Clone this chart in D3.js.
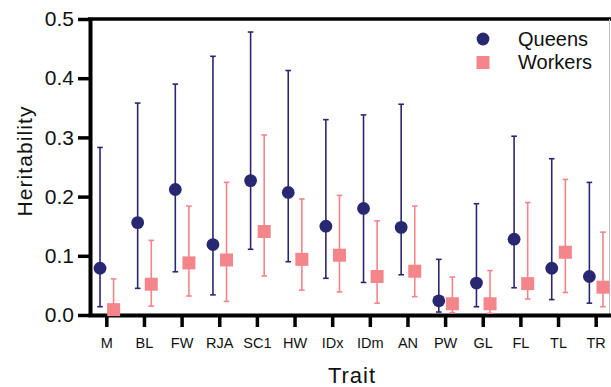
<!DOCTYPE html>
<html>
<head>
<meta charset="utf-8">
<script src="https://cdn.jsdelivr.net/npm/d3@7"></script>
<style>
  body { margin: 0; background: #fff; }
  svg { display: block; font-family: "Liberation Sans", Arial, sans-serif; }
</style>
</head>
<body>
<svg id="chart" width="611" height="387"></svg>
<script>
var traits = ["M", "BL", "FW", "RJA", "SC1", "HW", "IDx", "IDm", "AN", "PW", "GL", "FL", "TL", "TR"];

var queenH   = [0.079, 0.156, 0.212, 0.119, 0.227, 0.207, 0.150, 0.180, 0.148, 0.024, 0.054, 0.128, 0.079, 0.065];
var queenLo  = [0.014, 0.045, 0.073, 0.034, 0.111, 0.090, 0.062, 0.055, 0.068, 0.005, 0.014, 0.046, 0.026, 0.020];
var queenHi  = [0.283, 0.358, 0.390, 0.437, 0.478, 0.413, 0.330, 0.338, 0.356, 0.094, 0.188, 0.302, 0.264, 0.224];

var workerH  = [0.009, 0.052, 0.088, 0.093, 0.141, 0.094, 0.101, 0.065, 0.074, 0.019, 0.019, 0.053, 0.106, 0.047];
var workerLo = [0.001, 0.015, 0.032, 0.023, 0.066, 0.042, 0.039, 0.020, 0.031, 0.004, 0.003, 0.027, 0.038, 0.014];
var workerHi = [0.061, 0.126, 0.184, 0.224, 0.304, 0.196, 0.202, 0.159, 0.184, 0.064, 0.075, 0.190, 0.229, 0.140];

var yTicks = [0, 0.1, 0.2, 0.3, 0.4, 0.5];

var navy = "#282872";
var salmon = "#f4858a";

var svg = d3.select("#chart");
var x = d3.scaleBand().domain(traits).range([88, 615]).padding(0);
var y = d3.scaleLinear().domain([0, 0.5]).range([315, 19]);
var off = 6.8;

function cx(d, i, dx) { return x(traits[i]) + x.bandwidth() / 2 + dx; }

// frame top line and right edge
svg.append("line").attr("x1", 88).attr("x2", 611).attr("y1", y(0.5)).attr("y2", y(0.5))
    .style("stroke", "#000").style("stroke-width", "3.5px");
svg.append("line").attr("x1", 609.5).attr("x2", 609.5).attr("y1", y(0.5)).attr("y2", 315)
    .style("stroke", "#bbb").style("stroke-width", "1px");

function styleAxis(g, fs) {
    g.attr("font-family", null).attr("font-size", null);
    g.select(".domain").style("stroke", "#000").style("stroke-width", "4px");
    g.selectAll(".tick line").style("stroke", "#000").style("stroke-width", "3.5px");
    g.selectAll("text").style("font-size", fs + "px").style("fill", "#111");
}

// y axis
var yAxis = svg.append("g").attr("transform", "translate(90,0)")
    .call(d3.axisLeft(y).tickValues(yTicks).tickFormat(d3.format(".1f")).tickSize(12).tickPadding(4).tickSizeOuter(0));
styleAxis(yAxis, 21);

// x axis
var xAxis = svg.append("g").attr("transform", "translate(0,315)")
    .call(d3.axisBottom(x).tickSize(12).tickPadding(11).tickSizeOuter(0));
styleAxis(xAxis, 14.5);

// axis titles
svg.append("text").attr("transform", "translate(32,161) rotate(-90)")
    .attr("text-anchor", "middle").style("font-size", "21px").style("letter-spacing", "1.1px")
    .attr("fill", "#111").text("Heritability");
svg.append("text").attr("x", 352).attr("y", 383)
    .attr("text-anchor", "middle").style("font-size", "22px").style("letter-spacing", "1px")
    .attr("fill", "#111").text("Trait");

function drawSeries(h, lo, hi, dx, color, shape) {
    var g = svg.append("g");
    g.selectAll(".bar").data(h).join("line")
        .attr("x1", (d, i) => cx(d, i, dx)).attr("x2", (d, i) => cx(d, i, dx))
        .attr("y1", (d, i) => y(lo[i])).attr("y2", (d, i) => y(hi[i]))
        .attr("stroke", color).attr("stroke-width", 1.6);
    [lo, hi].forEach(arr => {
        g.selectAll(null).data(arr).join("line")
            .attr("x1", (d, i) => cx(d, i, dx) - 2.8).attr("x2", (d, i) => cx(d, i, dx) + 2.8)
            .attr("y1", d => y(d)).attr("y2", d => y(d))
            .attr("stroke", color).attr("stroke-width", 1.6);
    });
    if (shape == "circle") {
        g.selectAll("circle").data(h).join("circle")
            .attr("cx", (d, i) => cx(d, i, dx)).attr("cy", d => y(d)).attr("r", 6.4)
            .attr("fill", color);
    } else {
        g.selectAll("rect").data(h).join("rect")
            .attr("x", (d, i) => cx(d, i, dx) - 6.5).attr("y", d => y(d) - 6.5)
            .attr("width", 13).attr("height", 13).attr("fill", color);
    }
}

drawSeries(queenH, queenLo, queenHi, -off, navy, "circle");
drawSeries(workerH, workerLo, workerHi, off, salmon, "square");

// legend
var legend = svg.append("g");
legend.append("circle").attr("cx", 483).attr("cy", 39).attr("r", 6.4).attr("fill", navy);
legend.append("rect").attr("x", 476.5).attr("y", 56).attr("width", 13).attr("height", 13).attr("fill", salmon);
legend.append("text").attr("x", 518).attr("y", 46).style("font-size", "20px").attr("fill", "#111").text("Queens");
legend.append("text").attr("x", 518).attr("y", 69).style("font-size", "20px").attr("fill", "#111").text("Workers");
</script>
</body>
</html>
